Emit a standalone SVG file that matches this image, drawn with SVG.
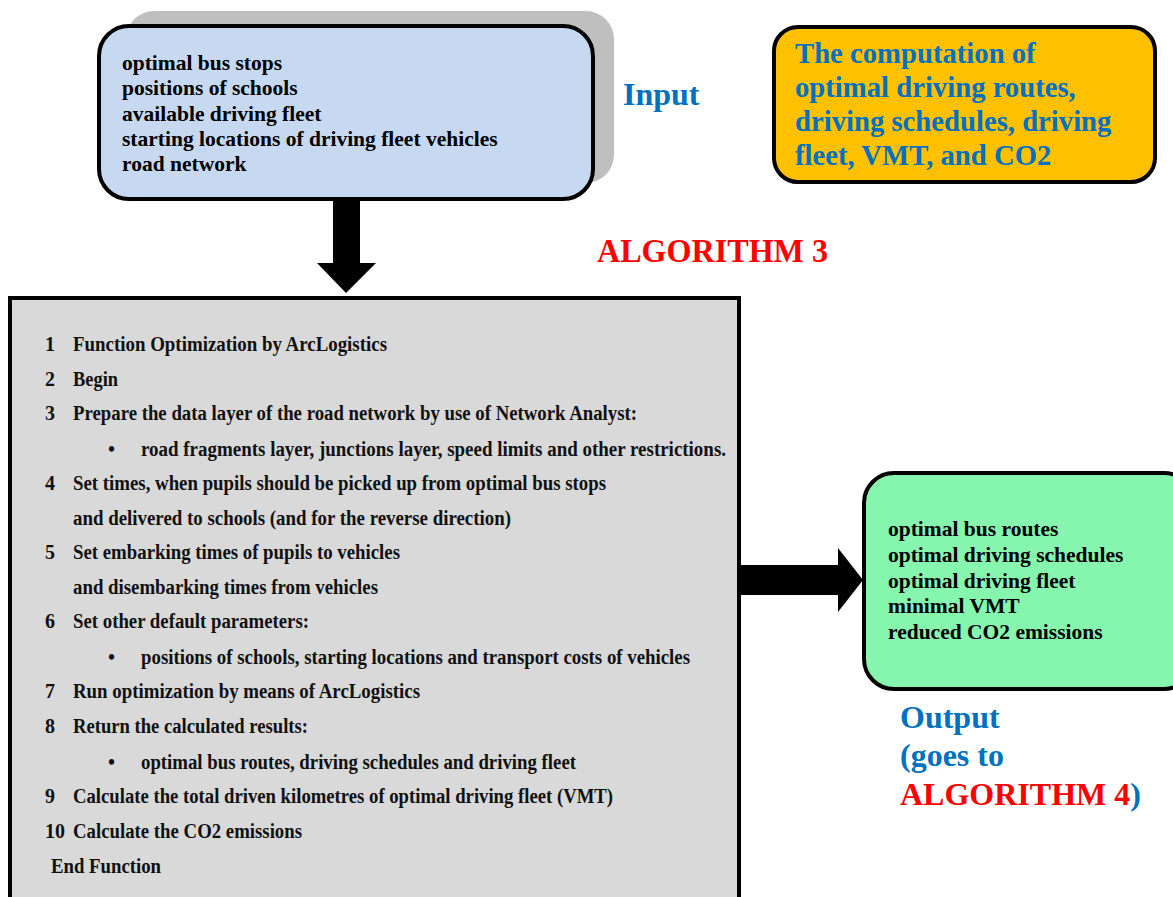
<svg xmlns="http://www.w3.org/2000/svg" width="1173" height="897" viewBox="0 0 1173 897">
  <style>
    .t { font-family: "Liberation Serif", "Times New Roman", serif; font-weight: bold; }
    .box { stroke: #000; stroke-width: 4; }
    .in { font-size: 21.5px; fill: #000; }
    .alg { font-size: 20px; fill: #111; }
    .blue { fill: #0070C0; }
    .red { fill: #FF0000; }
  </style>
  <rect width="1173" height="897" fill="#FFFFFF"/>

  <!-- Input node -->
  <g id="input">
    <rect x="126" y="11" width="488" height="172" rx="28" fill="#BFBFBF"/>
    <rect class="box" x="99" y="26" width="494" height="173" rx="30" fill="#C6D9F0"/>
    <g class="t in">
      <text x="122" y="70">optimal bus stops</text>
      <text x="122" y="95">positions of schools</text>
      <text x="122" y="121">available driving fleet</text>
      <text x="122" y="146">starting locations of driving fleet vehicles</text>
      <text x="122" y="171">road network</text>
    </g>
    <text class="t blue" x="623" y="105" font-size="32">Input</text>
  </g>

  <!-- Purpose note -->
  <g id="purpose">
    <rect class="box" x="774" y="27" width="381" height="155" rx="24" fill="#FFC000"/>
    <g class="t blue" font-size="28.7">
      <text x="795" y="63">The computation of</text>
      <text x="795" y="97">optimal driving routes,</text>
      <text x="795" y="131">driving schedules, driving</text>
      <text x="795" y="165">fleet, VMT, and CO2</text>
    </g>
  </g>

  <!-- Algorithm title -->
  <g id="title">
    <text class="t red" x="597" y="262" font-size="33" textLength="231" lengthAdjust="spacingAndGlyphs">ALGORITHM 3</text>
  </g>

  <!-- Connectors -->
  <g id="connectors" fill="#000">
    <polygon points="333,199 360,199 360,263 376,263 346,293 317,263 333,263"/>
    <polygon points="739,565 838,565 838,548 863,580 838,612 838,595 739,595"/>
  </g>

  <!-- Algorithm body -->
  <g id="algorithm">
    <rect class="box" x="10" y="298" width="729" height="620" fill="#D9D9D9"/>
    <g class="t alg">
      <text x="45" y="351">1</text>
      <text x="73" y="351" textLength="314" lengthAdjust="spacingAndGlyphs">Function Optimization by ArcLogistics</text>
      <text x="45" y="386">2</text>
      <text x="73" y="386" textLength="45" lengthAdjust="spacingAndGlyphs">Begin</text>
      <text x="45" y="420">3</text>
      <text x="73" y="420" textLength="564" lengthAdjust="spacingAndGlyphs">Prepare the data layer of the road network by use of Network Analyst:</text>
      <text x="108" y="456">•</text>
      <text x="141" y="456" textLength="585" lengthAdjust="spacingAndGlyphs">road fragments layer, junctions layer, speed limits and other restrictions.</text>
      <text x="45" y="490">4</text>
      <text x="73" y="490" textLength="533" lengthAdjust="spacingAndGlyphs">Set times, when pupils should be picked up from optimal bus stops</text>
      <text x="73" y="525" textLength="438" lengthAdjust="spacingAndGlyphs">and delivered to schools (and for the reverse direction)</text>
      <text x="45" y="559">5</text>
      <text x="73" y="559" textLength="327" lengthAdjust="spacingAndGlyphs">Set embarking times of pupils to vehicles</text>
      <text x="73" y="594" textLength="305" lengthAdjust="spacingAndGlyphs">and disembarking times from vehicles</text>
      <text x="45" y="628">6</text>
      <text x="73" y="628" textLength="236" lengthAdjust="spacingAndGlyphs">Set other default parameters:</text>
      <text x="108" y="664">•</text>
      <text x="141" y="664" textLength="549" lengthAdjust="spacingAndGlyphs">positions of schools, starting locations and transport costs of vehicles</text>
      <text x="45" y="698">7</text>
      <text x="73" y="698" textLength="347" lengthAdjust="spacingAndGlyphs">Run optimization by means of ArcLogistics</text>
      <text x="45" y="733">8</text>
      <text x="73" y="733" textLength="235" lengthAdjust="spacingAndGlyphs">Return the calculated results:</text>
      <text x="108" y="769">•</text>
      <text x="141" y="769" textLength="435" lengthAdjust="spacingAndGlyphs">optimal bus routes, driving schedules and driving fleet</text>
      <text x="45" y="803">9</text>
      <text x="73" y="803" textLength="540" lengthAdjust="spacingAndGlyphs">Calculate the total driven kilometres of optimal driving fleet (VMT)</text>
      <text x="45" y="838" textLength="20" lengthAdjust="spacingAndGlyphs">10</text>
      <text x="73" y="838" textLength="229" lengthAdjust="spacingAndGlyphs">Calculate the CO2 emissions</text>
      <text x="51" y="873" textLength="110" lengthAdjust="spacingAndGlyphs">End Function</text>
    </g>
  </g>

  <!-- Output node -->
  <g id="output">
    <rect class="box" x="864" y="473" width="330" height="216" rx="30" fill="#86F5AE"/>
    <g class="t in">
      <text x="888" y="536">optimal bus routes</text>
      <text x="888" y="562">optimal driving schedules</text>
      <text x="888" y="588">optimal driving fleet</text>
      <text x="888" y="613">minimal VMT</text>
      <text x="888" y="639">reduced CO2 emissions</text>
    </g>
    <g class="t" font-size="32">
      <text class="blue" x="900" y="728">Output</text>
      <text class="blue" x="900" y="766">(goes to</text>
      <text x="900" y="805"><tspan class="red">ALGORITHM 4</tspan><tspan class="blue">)</tspan></text>
    </g>
  </g>
</svg>
